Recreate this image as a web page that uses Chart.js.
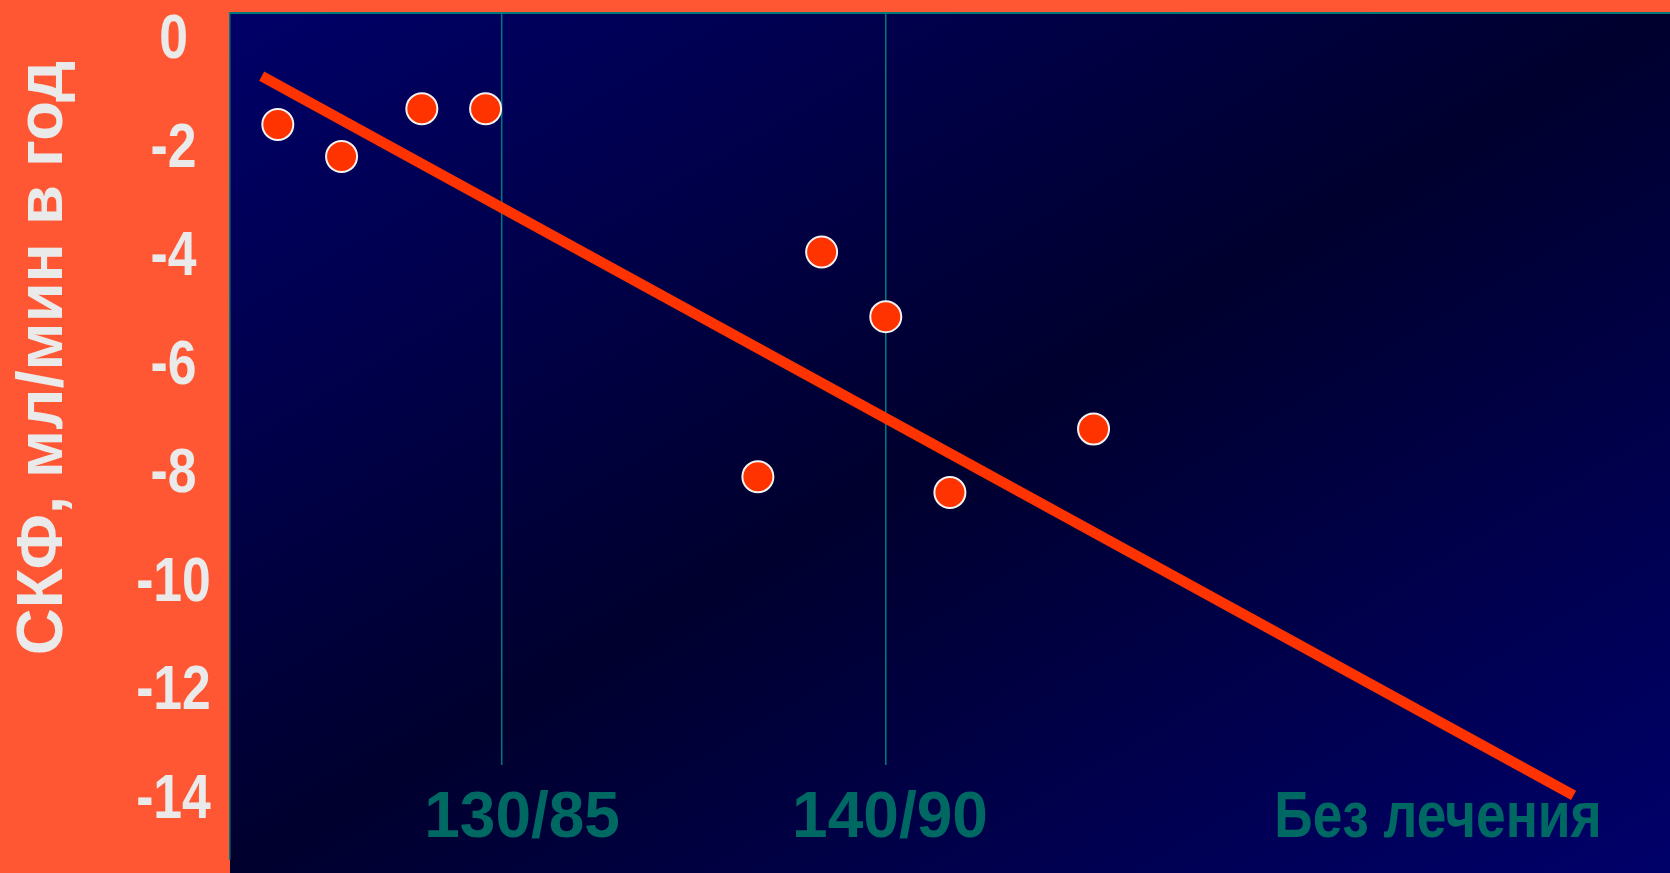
<!DOCTYPE html>
<html lang="ru">
<head>
<meta charset="utf-8">
<title>СКФ, мл/мин в год</title>
<script src="https://cdn.jsdelivr.net/npm/chart.js@4.4.1/dist/chart.umd.min.js"></script>
<style>
  html, body { margin: 0; padding: 0; background: #FF5733; overflow: hidden; }
  #wrap { width: 1670px; height: 873px; }
  canvas { display: block; }
</style>
</head>
<body>
<div id="wrap"><canvas id="chart" width="1670" height="873"></canvas></div>
<script>
// Systolic pressure (mmHg) of each study and its yearly GFR change (ml/min per year)
const studyPressure = [124.17, 125.83, 127.92, 129.58, 138.33, 140.0, 136.67, 141.67, 145.41];
const studyGfrChange = [-1.64, -2.23, -1.35, -1.35, -3.99, -5.18, -8.13, -8.42, -7.25];

// Regression line end points
const trendPressure = [123.75, 157.91];
const trendGfrChange = [-0.75, -14.0];

// Target pressure thresholds marked with vertical lines
const thresholdPressure = [130, 140];

// Labels along the bottom and the pressure each one is centred on
const xLabels = ['130/85', '140/90', 'Без лечения'];
const xLabelPressure = [130.53, 140.11, 154.38];

// Y axis ticks and title
const yTicks = [0, -2, -4, -6, -8, -10, -12, -14];
const yTitle = 'СКФ, мл/мин в год';

const X_MIN = 122.925, X_MAX = 160.42;
const Y_MIN = -15.43, Y_MAX = 0.396;
const LINE_BOTTOM = -13.44;   // lower end of the threshold lines
const LABEL_ROW = -14.34;     // vertical centre of the bottom labels

const ORANGE = '#FF5733';
const TEAL = '#007A78';
const LABEL_TEAL = '#006862';
const LIGHT = '#EAEAEA';
const RED = '#FF3300';
const FONT = '"Liberation Sans", Arial, sans-serif';
const NARROW = 0.82;          // horizontal squeeze for condensed text
const CAP = 0.358;            // half the cap height, in em

// draws text whose capitals are vertically centred on y
function centredText(ctx, text, x, y, size, squeeze) {
  ctx.save();
  ctx.translate(x, y + CAP * size);
  ctx.scale(squeeze, 1);
  ctx.fillText(text, 0, 0);
  ctx.restore();
}

const backdrop = {
  id: 'backdrop',
  beforeDraw(chart) {
    const {ctx, chartArea: a, width, height} = chart;
    ctx.save();
    ctx.fillStyle = ORANGE;
    ctx.fillRect(0, 0, width, height);
    // diagonal navy gradient across the plot panel
    ctx.translate(a.left, a.top);
    ctx.scale(a.right - a.left, a.bottom - a.top);
    const g = ctx.createLinearGradient(0, 0, 1, 1);
    g.addColorStop(0, 'rgb(0,0,104)');
    g.addColorStop(0.5, 'rgb(0,0,46)');
    g.addColorStop(1, 'rgb(0,0,106)');
    ctx.fillStyle = g;
    ctx.fillRect(0, 0, 1, 1);
    ctx.restore();
    ctx.save();
    ctx.fillStyle = TEAL;
    ctx.fillRect(a.left - 1, a.top - 2, a.right - a.left + 1, 2);
    ctx.fillRect(a.left - 1, a.top - 2, 1.5, a.bottom - a.top - 11);
    ctx.restore();
  }
};

const annotations = {
  id: 'annotations',
  afterDraw(chart) {
    const {ctx} = chart;
    const xs = chart.scales.x, ys = chart.scales.y;

    // y axis title, rotated, baseline on the right
    ctx.save();
    ctx.translate(62, 358);
    ctx.rotate(-Math.PI / 2);
    ctx.fillStyle = LIGHT;
    ctx.font = 'bold 65px ' + FONT;
    ctx.textAlign = 'center';
    ctx.textBaseline = 'alphabetic';
    ctx.fillText(yTitle, 0, 0);
    ctx.restore();

    // y axis tick labels in condensed bold
    ctx.save();
    ctx.fillStyle = LIGHT;
    ctx.font = 'bold 63px ' + FONT;
    ctx.textAlign = 'center';
    ctx.textBaseline = 'alphabetic';
    ys.ticks.forEach(t => {
      centredText(ctx, String(t.value), 173.5, ys.getPixelForValue(t.value), 63, NARROW);
    });
    ctx.restore();

    // labels along the bottom of the panel
    ctx.save();
    ctx.fillStyle = LABEL_TEAL;
    ctx.textAlign = 'center';
    ctx.textBaseline = 'alphabetic';
    const y = ys.getPixelForValue(LABEL_ROW);
    xLabels.forEach((t, i) => {
      const x = xs.getPixelForValue(xLabelPressure[i]);
      if (/\d/.test(t)) {
        ctx.font = 'bold 64px ' + FONT;
        centredText(ctx, t, x, y, 64, 1);
      } else {
        ctx.font = 'bold 65px ' + FONT;
        centredText(ctx, t, x, y, 64, NARROW);
      }
    });
    ctx.restore();
  }
};

const points = studyPressure.map((x, i) => ({x, y: studyGfrChange[i]}));
const trend = trendPressure.map((x, i) => ({x, y: trendGfrChange[i]}));
const thresholds = thresholdPressure.map(p => ({
  type: 'line',
  data: [{x: p, y: Y_MAX}, {x: p, y: LINE_BOTTOM}],
  borderColor: TEAL,
  borderWidth: 1.5,
  pointRadius: 0,
  order: 3
}));

new Chart(document.getElementById('chart'), {
  data: {
    datasets: [
      {
        type: 'scatter',
        data: points,
        backgroundColor: RED,
        borderColor: '#F2F2F2',
        borderWidth: 2,
        pointRadius: 15.5,
        pointHoverRadius: 15.5,
        order: 0
      },
      {
        type: 'line',
        data: trend,
        borderColor: RED,
        borderWidth: 10.5,
        borderCapStyle: 'butt',
        pointRadius: 0,
        order: 1
      },
      ...thresholds
    ]
  },
  options: {
    responsive: false,
    devicePixelRatio: 1,
    animation: false,
    events: [],
    layout: {autoPadding: false, padding: {top: 14, left: 0, right: 0, bottom: 0}},
    plugins: {legend: {display: false}, tooltip: {enabled: false}},
    scales: {
      x: {
        type: 'linear',
        min: X_MIN,
        max: X_MAX,
        display: false
      },
      y: {
        type: 'linear',
        min: Y_MIN,
        max: Y_MAX,
        grid: {display: false, drawTicks: false},
        border: {display: false},
        afterFit(scale) { scale.width = 230; },
        afterBuildTicks(scale) { scale.ticks = yTicks.map(v => ({value: v})); },
        ticks: {display: false}
      }
    }
  },
  plugins: [backdrop, annotations]
});
</script>
</body>
</html>
